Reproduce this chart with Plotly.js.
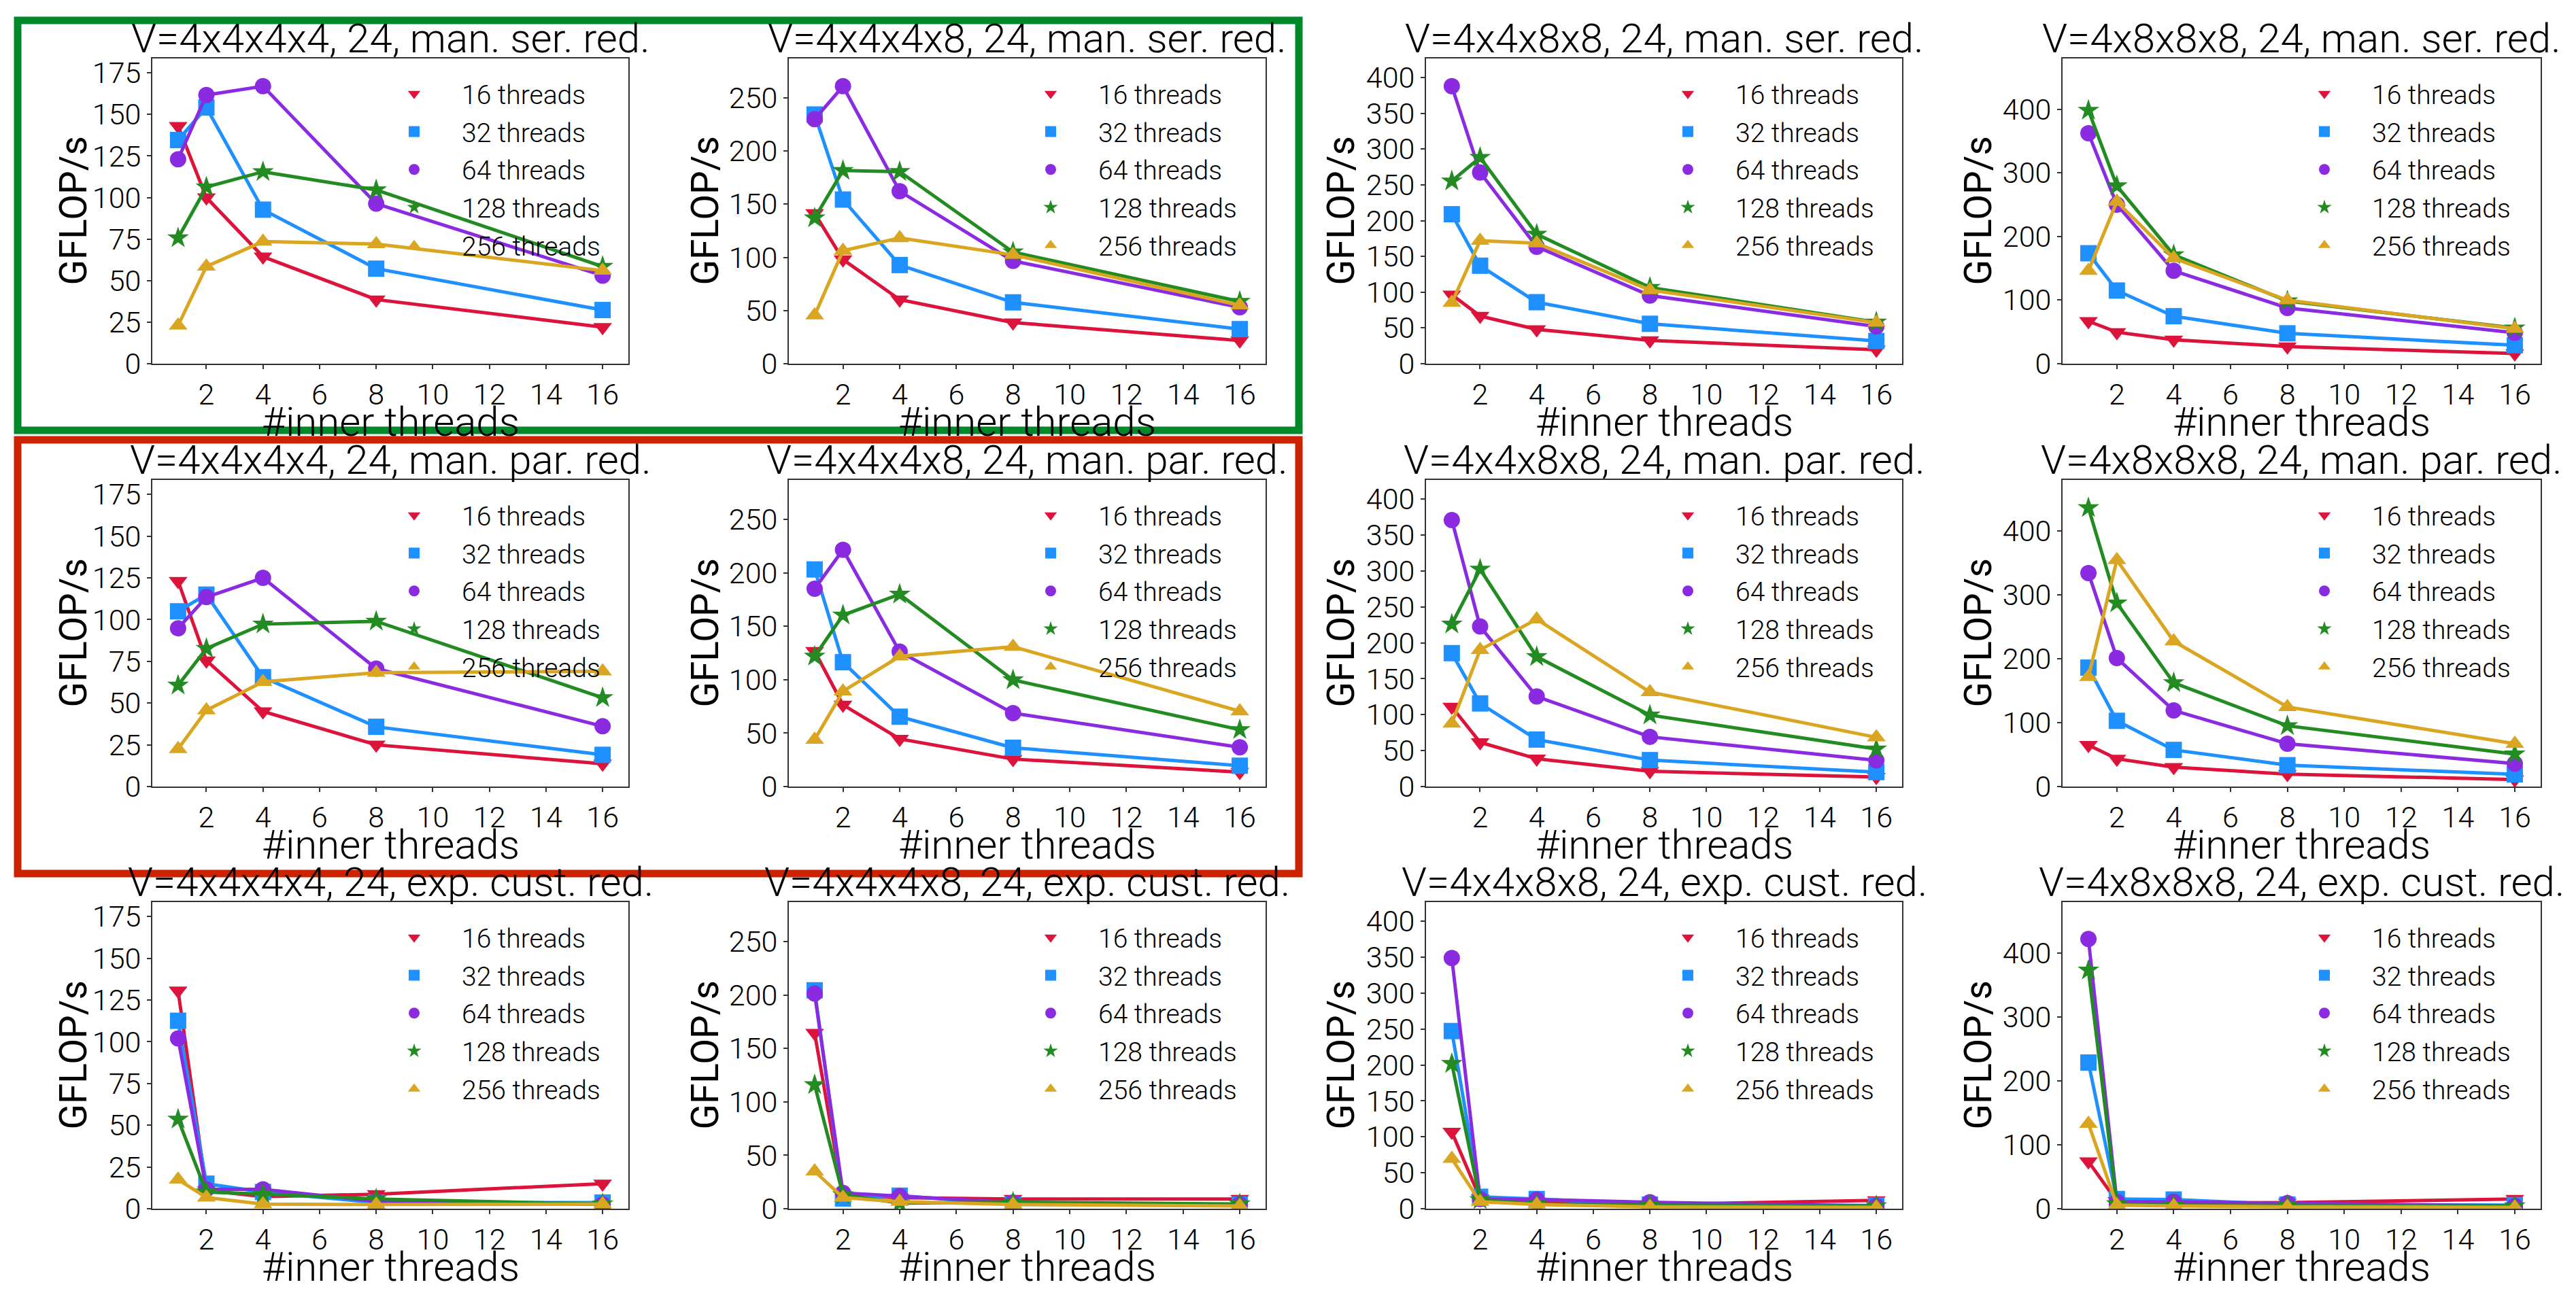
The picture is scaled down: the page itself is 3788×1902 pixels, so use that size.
<!DOCTYPE html>
<html>
<head>
<meta charset="utf-8">
<script src="https://cdn.plot.ly/plotly-3.0.1.min.js"></script>
<style>html,body{margin:0;padding:0;background:#fff;}#chart{width:3788px;height:1902px;}</style>
</head>
<body>
<div id="chart"></div>
<script>
// ---------------- data ----------------
const innerThreads = [1, 2, 4, 8, 16];
const seriesNames = ['16 threads', '32 threads', '64 threads', '128 threads', '256 threads'];
const volumes = ['4x4x4x4', '4x4x4x8', '4x4x8x8', '4x8x8x8'];
const reductions = ['man. ser. red.', 'man. par. red.', 'exp. cust. red.'];
const yTickStep = [25, 50, 50, 100];
const xTickVals = [2, 4, 6, 8, 10, 12, 14, 16];

// GFLOP/s, rows = 16, 32, 64, 128, 256 threads
const ser_4x4x4x4 = [
  [143, 100, 64.4, 38.6, 22],
  [134.6, 154.2, 92.7, 57.2, 32.3],
  [123, 161.7, 167, 96.3, 53],
  [75.7, 106.3, 115.5, 104.6, 58.5],
  [23, 58.5, 73.5, 72, 56]
];
const ser_4x4x4x8 = [
  [141.4, 98, 60.3, 38.7, 21.8],
  [234.4, 154.4, 92.8, 57.7, 32.5],
  [230, 261, 162.2, 96.7, 53],
  [137, 181.7, 180.6, 105, 58.5],
  [45.5, 106.3, 118.2, 102.4, 55]
];
const ser_4x4x8x8 = [
  [96.5, 66.7, 48, 32.6, 19.4],
  [209, 137, 86, 55.8, 31.8],
  [388, 267.4, 163.6, 95.3, 52],
  [255.4, 288.4, 181, 106.6, 58.1],
  [85.3, 172, 168.6, 103, 57.4]
];
const ser_4x8x8x8 = [
  [66.8, 49.5, 37.7, 26.9, 16],
  [173.5, 115, 74.6, 47.7, 29],
  [362, 250, 146, 87.6, 48.6],
  [398, 279.4, 171, 98.5, 56],
  [146, 254.7, 165.7, 99.8, 55]
];
const par_4x4x4x4 = [
  [123.1, 75.5, 45, 25, 13.6],
  [105, 115, 65.5, 35.8, 19],
  [94.8, 113.5, 125, 70.7, 36.1],
  [60.7, 82.7, 97.3, 99, 53.2],
  [22.5, 45.7, 62.7, 68.2, 69]
];
const par_4x4x4x8 = [
  [126.8, 76.5, 44.6, 25.7, 13.5],
  [203.3, 116.4, 65.4, 36.3, 19.5],
  [185.2, 221.7, 126.3, 68.7, 36.8],
  [121.9, 160.5, 180, 99.8, 53.2],
  [44, 89.2, 121.9, 131, 70.5]
];
const par_4x4x8x8 = [
  [111, 61.5, 38.7, 21.3, 13.2],
  [185.7, 115.7, 65.4, 36.8, 20.1],
  [371, 222.8, 125.3, 69.2, 36.4],
  [226, 302.5, 180.7, 99.4, 52.2],
  [87.8, 190.3, 232.9, 131.5, 68.5]
];
const par_4x8x8x8 = [
  [65, 43.4, 30.4, 19.5, 10.8],
  [186, 102.8, 57.3, 33.4, 19.1],
  [334, 201, 119, 67, 35.8],
  [436, 287, 162.3, 95, 50.8],
  [171.4, 354.4, 227.3, 124.5, 67]
];
const exp_4x4x4x4 = [
  [130.6, 11, 7.2, 8.7, 15],
  [112.6, 15, 10, 3.7, 3.7],
  [102, 11.6, 11.6, 4.5, 2.5],
  [53.6, 10, 8.8, 5.8, 2.8],
  [17.5, 6.7, 2.8, 2.5, 2.8]
];
const exp_4x4x4x8 = [
  [164.5, 12.2, 10.4, 9, 9],
  [204.5, 9.6, 12.2, 3.9, 3.9],
  [201.4, 14.8, 11.7, 5.7, 3.9],
  [116, 13, 5.2, 6, 4.4],
  [35, 10.4, 6.5, 3.9, 2.6]
];
const exp_4x4x8x8 = [
  [107, 14.3, 9.7, 5.8, 11.6],
  [247.3, 16.6, 13.5, 5.8, 4.6],
  [349, 13.5, 12.8, 8.9, 3.9],
  [202, 12.4, 6.6, 5, 3.9],
  [69.6, 9.7, 5.8, 2.7, 1.9]
];
const exp_4x8x8x8 = [
  [73.8, 11.7, 8.7, 9.5, 15.2],
  [228.6, 15.2, 14.3, 6.5, 5.6],
  [422, 10.8, 10.8, 8.7, 4.3],
  [373, 7.4, 5.6, 5.6, 4.3],
  [133, 5.6, 4.3, 3, 2.2]
];

const panels = [
  [ser_4x4x4x4, ser_4x4x4x8, ser_4x4x8x8, ser_4x8x8x8],
  [par_4x4x4x4, par_4x4x4x8, par_4x4x8x8, par_4x8x8x8],
  [exp_4x4x4x4, exp_4x4x4x8, exp_4x4x8x8, exp_4x8x8x8]
];

// ---------------- styles ----------------
const colors = ['#DC143C', '#1E90FF', '#8A2BE2', '#228B22', '#DAA520'];
const symbols = ['triangle-down', 'square', 'circle', 'star', 'triangle-up'];
const FONT = 'Roboto, "Open Sans", sans-serif';
const W = 3788, H = 1902;

// plot-area pixel boxes
const colPx = [[224, 924], [1160, 1861], [2097, 2797], [3033, 3736]];
const rowPx = [[86, 535], [706, 1157], [1327, 1778]];
const yTitleShift = [-117, -124, -126, -125];

function f(size, weight) { return {family: FONT, size: size, color: '#000', weight: weight || 300}; }

const traces = [];
const layout = {
  width: W, height: H,
  margin: {l: 0, r: 0, t: 0, b: 0},
  paper_bgcolor: '#ffffff',
  plot_bgcolor: '#ffffff',
  font: f(40),
  showlegend: true,
  annotations: [],
  shapes: []
};

for (let r = 0; r < 3; r++) {
  for (let c = 0; c < 4; c++) {
    const k = r * 4 + c + 1;
    const xa = 'x' + (k === 1 ? '' : k);
    const ya = 'y' + (k === 1 ? '' : k);
    const legName = 'legend' + (k === 1 ? '' : k);
    const data = panels[r][c];

    // column-wide y limit
    let colMax = 0;
    for (let rr = 0; rr < 3; rr++) panels[rr][c].forEach(s => s.forEach(v => { if (v > colMax) colMax = v; }));
    const yMax = colMax * 1.1;
    const yTicks = [];
    for (let v = 0; v <= yMax; v += yTickStep[c]) yTicks.push(v);

    const xd = [colPx[c][0] / W, colPx[c][1] / W];
    const yd = [1 - rowPx[r][1] / H, 1 - rowPx[r][0] / H];

    const axCommon = {
      showgrid: false, zeroline: false,
      showline: true, mirror: true, linecolor: '#333', linewidth: 2,
      ticks: 'outside', ticklen: 6, tickwidth: 2, tickcolor: '#333',
      tickfont: f(43)
    };
    layout['xaxis' + (k === 1 ? '' : k)] = Object.assign({}, axCommon, {
      domain: xd, anchor: ya, range: [0.09, 16.91],
      tickmode: 'array', tickvals: xTickVals
    });
    layout['yaxis' + (k === 1 ? '' : k)] = Object.assign({}, axCommon, {
      domain: yd, anchor: xa, range: [0, yMax],
      tickmode: 'array', tickvals: yTicks
    });

    for (let s = 0; s < 5; s++) {
      traces.push({
        type: 'scatter', mode: 'lines', x: innerThreads, y: data[s],
        xaxis: xa, yaxis: ya, showlegend: false, hoverinfo: 'skip',
        line: {color: colors[s], width: 5}
      });
      traces.push({
        type: 'scatter', mode: 'markers', x: innerThreads, y: data[s],
        xaxis: xa, yaxis: ya, name: seriesNames[s],
        legend: legName, legendgroup: 'g' + k + '_' + s,
        marker: {symbol: symbols[s], size: 24, color: colors[s], line: {width: 0}}
      });
    }

    layout[legName] = {
      x: (colPx[c][0] + 315) / W, xanchor: 'left',
      y: 1 - (rowPx[r][0] + 20) / H, yanchor: 'top',
      bgcolor: 'rgba(0,0,0,0)', borderwidth: 0,
      font: f(39),
      itemwidth: 130, itemsizing: 'trace', tracegroupgap: 2
    };

    // subplot title
    layout.annotations.push({
      xref: 'paper', yref: 'paper', x: (xd[0] + xd[1]) / 2, y: yd[1],
      xanchor: 'center', yanchor: 'bottom', yshift: -8, showarrow: false,
      text: 'V=' + volumes[c] + ', 24, ' + reductions[r],
      font: f(60)
    });
    // x title
    layout.annotations.push({
      xref: 'paper', yref: 'paper', x: (xd[0] + xd[1]) / 2, y: yd[0],
      xanchor: 'center', yanchor: 'top', yshift: -48, showarrow: false,
      text: '#inner threads',
      font: f(60)
    });
    // y title
    layout.annotations.push({
      xref: 'paper', yref: 'paper', x: xd[0], y: (yd[0] + yd[1]) / 2,
      xanchor: 'center', yanchor: 'middle', xshift: yTitleShift[c], showarrow: false,
      textangle: -90, text: 'GFLOP/s',
      font: f(55, 400)
    });
  }
}

// highlight frames (paper coordinates)
function frame(x0, y0, x1, y1, color) {
  return {type: 'rect', xref: 'paper', yref: 'paper',
    x0: x0 / W, x1: x1 / W, y0: 1 - y1 / H, y1: 1 - y0 / H,
    line: {color: color, width: 11}, fillcolor: 'rgba(0,0,0,0)', layer: 'above'};
}
layout.shapes.push(frame(26, 30, 1910, 633, '#00882b'));
layout.shapes.push(frame(26, 647, 1910, 1285, '#cc2200'));

Plotly.newPlot('chart', traces, layout, {displayModeBar: false, staticPlot: true});
</script>
</body>
</html>
